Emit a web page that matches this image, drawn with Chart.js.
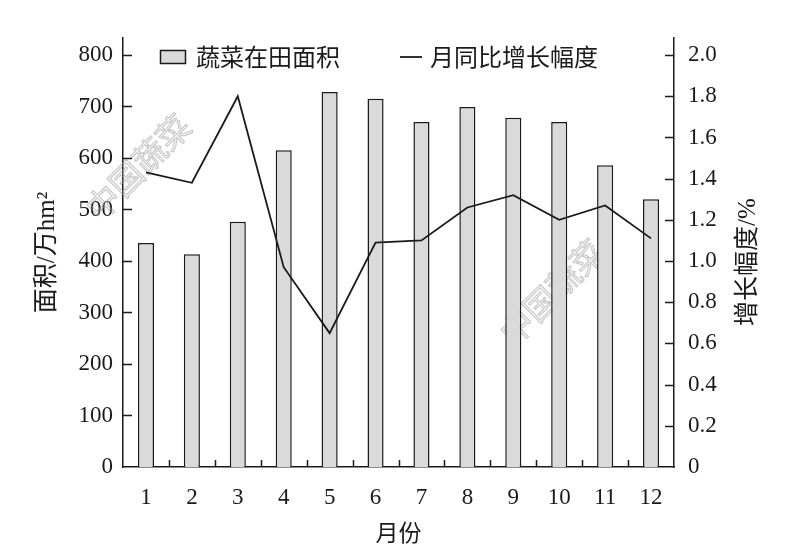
<!DOCTYPE html>
<html>
<head>
<meta charset="utf-8">
<script src="https://cdn.jsdelivr.net/npm/chart.js@4/dist/chart.umd.min.js"></script>
<style>
  html, body { margin: 0; padding: 0; background: #ffffff; }
  #wrap { width: 799px; height: 555px; position: relative; }
</style>
</head>
<body>
<div id="wrap"><canvas id="c" width="799" height="555"></canvas></div>
<script>
// ---- data ----
const months = ['1','2','3','4','5','6','7','8','9','10','11','12'];
const areaValues = [435, 413, 476, 615, 728, 715, 670, 699, 678, 670, 586, 520];
const growthValues = [1.43, 1.38, 1.80, 0.97, 0.65, 1.09, 1.10, 1.26, 1.32, 1.20, 1.27, 1.11];
const leftTicks = [0, 100, 200, 300, 400, 500, 600, 700, 800];
const rightTicks = [0, 0.2, 0.4, 0.6, 0.8, 1.0, 1.2, 1.4, 1.6, 1.8, 2.0];
const areaLabel = '蔬菜在田面积';
const growthLabel = '月同比增长幅度';
const leftTitle = '面积/万hm²';
const rightTitle = '增长幅度/%';
const xTitle = '月份';
const watermark = '中国蔬菜';

const SERIF = '"Liberation Serif", "Noto Sans CJK SC", serif';
const CJK = '"Noto Sans CJK SC", sans-serif';
const INK = '#1a1a1a';
const BAR_FILL = '#dadada';

const extrasPlugin = {
  id: 'extras',
  beforeDatasetsDraw(chart) {
    const ctx = chart.ctx;
    // watermark
    ctx.save();
    ctx.font = '33px ' + CJK;
    ctx.textAlign = 'center';
    ctx.textBaseline = 'middle';
    ctx.strokeStyle = 'rgba(150,150,150,0.5)';
    ctx.fillStyle = 'rgba(200,200,200,0.25)';
    ctx.lineWidth = 1;
    [[138, 167], [552, 292]].forEach(([x, y]) => {
      ctx.save();
      ctx.translate(x, y);
      ctx.rotate(-Math.PI / 4);
      ctx.fillText(watermark, 0, 0);
      ctx.strokeText(watermark, 0, 0);
      ctx.restore();
    });
    ctx.restore();
  },
  afterDraw(chart) {
    const ctx = chart.ctx;
    const ca = chart.chartArea;
    const sy = chart.scales.y, sy1 = chart.scales.y1, sx = chart.scales.x;
    ctx.save();
    ctx.strokeStyle = INK;
    ctx.lineWidth = 1.5;
    ctx.beginPath();
    // inward ticks
    leftTicks.forEach(v => {
      if (v === 0) return;
      const p = Math.round(sy.getPixelForValue(v)) + 0.5;
      ctx.moveTo(ca.left, p); ctx.lineTo(ca.left + 9, p);
    });
    rightTicks.forEach(v => {
      if (v === 0) return;
      const p = Math.round(sy1.getPixelForValue(v)) + 0.5;
      ctx.moveTo(ca.right, p); ctx.lineTo(ca.right - 9, p);
    });
    for (let i = 0; i < months.length - 1; i++) {
      const p = Math.round((sx.getPixelForValue(i) + sx.getPixelForValue(i + 1)) / 2) + 0.5;
      ctx.moveTo(p, ca.bottom); ctx.lineTo(p, ca.bottom - 7);
    }
    ctx.stroke();

    // right title (reads bottom to top)
    ctx.fillStyle = INK;
    ctx.font = '25px ' + SERIF;
    ctx.textAlign = 'center';
    ctx.textBaseline = 'middle';
    ctx.save();
    ctx.translate(748, 262);
    ctx.rotate(-Math.PI / 2);
    ctx.fillText(rightTitle, 0, 0);
    ctx.restore();

    // legend
    ctx.font = '24px ' + CJK;
    ctx.textAlign = 'left';
    ctx.textBaseline = 'middle';
    ctx.fillStyle = BAR_FILL;
    ctx.fillRect(160.5, 50.5, 25, 13);
    ctx.lineWidth = 1.5;
    ctx.strokeRect(160.5, 50.5, 25, 13);
    ctx.fillStyle = INK;
    ctx.fillText(areaLabel, 196, 57);
    ctx.lineWidth = 1.8;
    ctx.beginPath();
    ctx.moveTo(400, 57); ctx.lineTo(422, 57);
    ctx.stroke();
    ctx.fillText(growthLabel, 430, 57);
    ctx.restore();
  }
};

new Chart(document.getElementById('c'), {
  type: 'bar',
  data: {
    labels: months,
    datasets: [
      {
        type: 'line',
        label: growthLabel,
        data: growthValues,
        yAxisID: 'y1',
        borderColor: INK,
        borderWidth: 1.8,
        pointRadius: 0,
        tension: 0,
        fill: false,
        order: 0
      },
      {
        type: 'bar',
        label: areaLabel,
        data: areaValues,
        yAxisID: 'y',
        backgroundColor: BAR_FILL,
        borderColor: INK,
        borderWidth: 1.5,
        barPercentage: 0.35,
        categoryPercentage: 1.0,
        order: 1
      }
    ]
  },
  options: {
    responsive: false,
    animation: false,
    devicePixelRatio: 1,
    layout: { padding: { top: 38, left: 0, right: 0, bottom: 0 } },
    plugins: {
      legend: { display: false },
      tooltip: { enabled: false },
      title: { display: false }
    },
    scales: {
      x: {
        offset: true,
        grid: { display: false, drawTicks: false },
        border: { display: true, color: INK, width: 1.5 },
        ticks: { color: INK, font: { family: SERIF, size: 23 }, padding: 17, maxRotation: 0 },
        title: { display: true, text: xTitle, color: INK, font: { family: CJK, size: 23 }, padding: { top: 0, bottom: 9 } },
        afterFit(s) { s.height = 555 - 467; }
      },
      y: {
        position: 'left',
        min: 0,
        max: 833,
        grid: { display: false, drawTicks: false },
        border: { display: true, color: INK, width: 1.5 },
        afterBuildTicks(s) { s.ticks = leftTicks.map(v => ({ value: v })); },
        ticks: { color: INK, font: { family: SERIF, size: 23 }, padding: 10, callback: v => String(v) },
        title: { display: true, text: leftTitle, color: INK, font: { family: SERIF, size: 25 }, padding: { top: 32, bottom: 0 } },
        afterFit(s) { s.width = 123; }
      },
      y1: {
        position: 'right',
        min: 0,
        max: 2.083,
        grid: { display: false, drawTicks: false },
        border: { display: true, color: INK, width: 1.5 },
        afterBuildTicks(s) { s.ticks = rightTicks.map(v => ({ value: v })); },
        ticks: { color: INK, font: { family: SERIF, size: 23 }, padding: 14, callback: v => (v === 0 ? '0' : Number(v).toFixed(1)) },
        afterFit(s) { s.width = 799 - 674; }
      }
    }
  },
  plugins: [extrasPlugin]
});
</script>
</body>
</html>
